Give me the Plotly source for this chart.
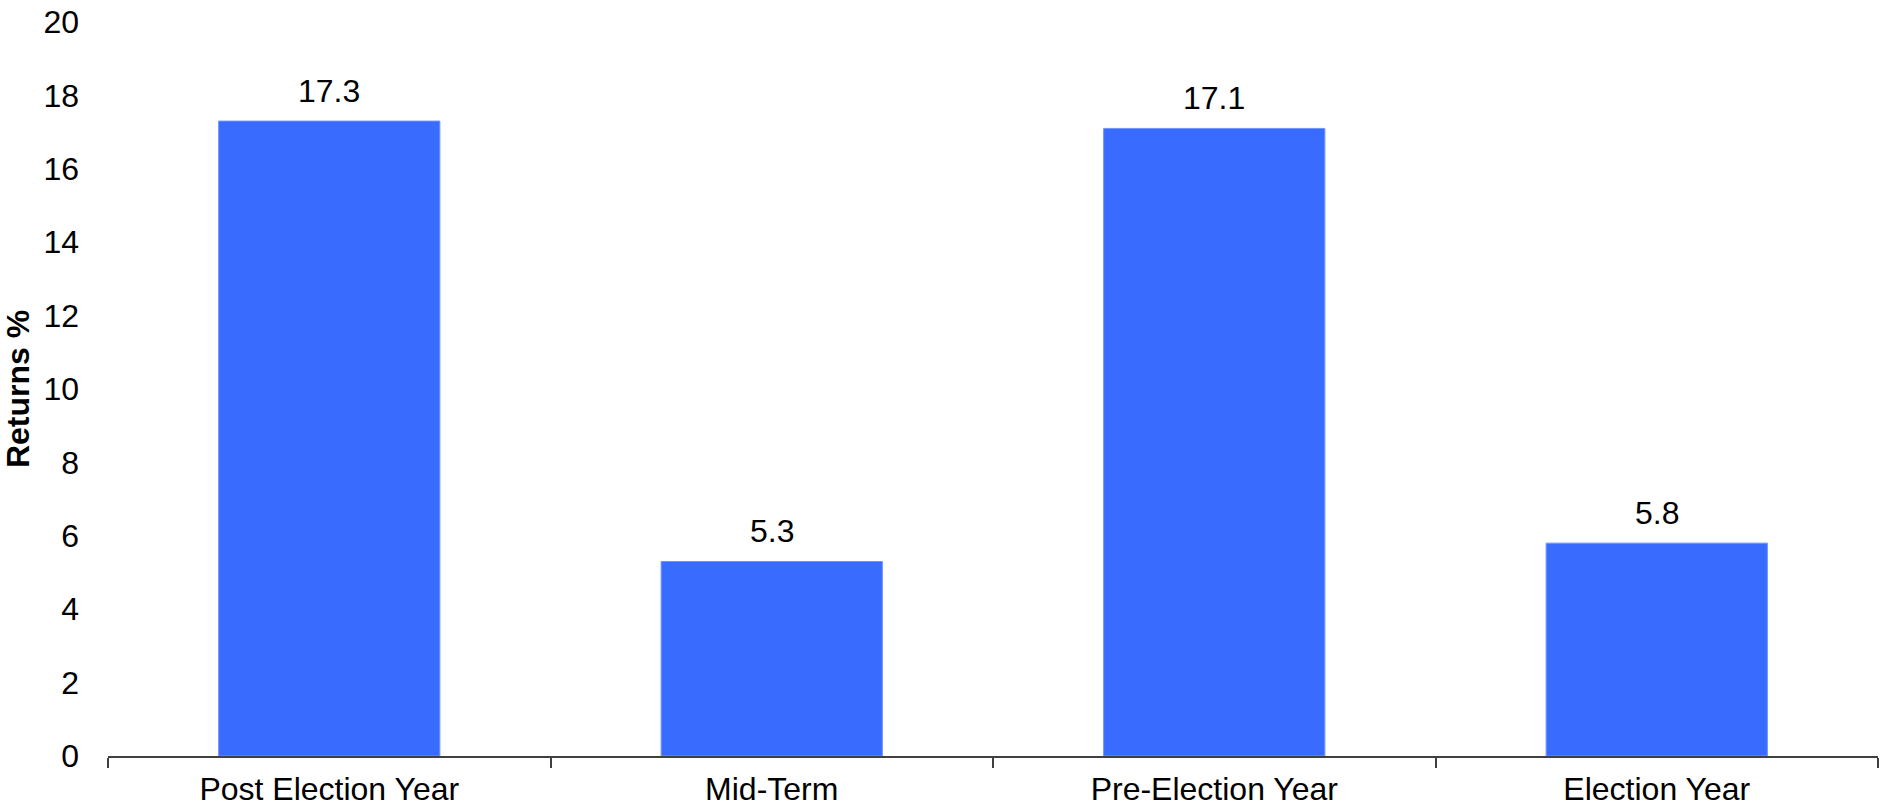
import plotly.graph_objects as go

# Average returns by year of the presidential cycle
categories = ["Post Election Year", "Mid-Term", "Pre-Election Year", "Election Year"]
returns_pct = [17.3, 5.3, 17.1, 5.8]
y_ticks = [0, 2, 4, 6, 8, 10, 12, 14, 16, 18, 20]

FONT = "Liberation Sans, Arial, sans-serif"
FONT_SIZE = 32
BAR_COLOR = "#3A6BFF"

fig = go.Figure(
    go.Bar(
        x=categories,
        y=returns_pct,
        width=0.5,
        marker=dict(color=BAR_COLOR, line=dict(color="#6F92FF", width=1)),
        hoverinfo="skip",
    )
)

# Value labels sitting above each bar
for cat, val in zip(categories, returns_pct):
    fig.add_annotation(
        x=cat,
        y=val,
        text=f"{val:.1f}",
        showarrow=False,
        yanchor="bottom",
        yshift=10,
        font=dict(family=FONT, size=FONT_SIZE, color="black"),
    )

fig.update_layout(
    width=1882,
    height=810,
    margin=dict(l=108, r=4, t=20, b=54),
    paper_bgcolor="white",
    plot_bgcolor="white",
    showlegend=False,
    font=dict(family=FONT, size=FONT_SIZE, color="black"),
)

fig.update_xaxes(
    type="category",
    automargin=False,
    showline=True,
    linecolor="#404040",
    linewidth=2,
    ticks="outside",
    tickson="boundaries",
    ticklen=10,
    tickwidth=1.5,
    tickcolor="#404040",
    showgrid=False,
    ticklabelstandoff=4,
    tickfont=dict(family=FONT, size=FONT_SIZE, color="black"),
)

fig.update_yaxes(
    range=[0, 20],
    tickvals=y_ticks,
    showline=False,
    showgrid=False,
    zeroline=False,
    ticks="",
    ticklabelstandoff=28,
    tickfont=dict(family=FONT, size=FONT_SIZE, color="black"),
    title=dict(
        text="<b>Returns %</b>",
        font=dict(family=FONT, size=FONT_SIZE, color="black"),
        standoff=8,
    ),
)

fig.write_html("out.html")
